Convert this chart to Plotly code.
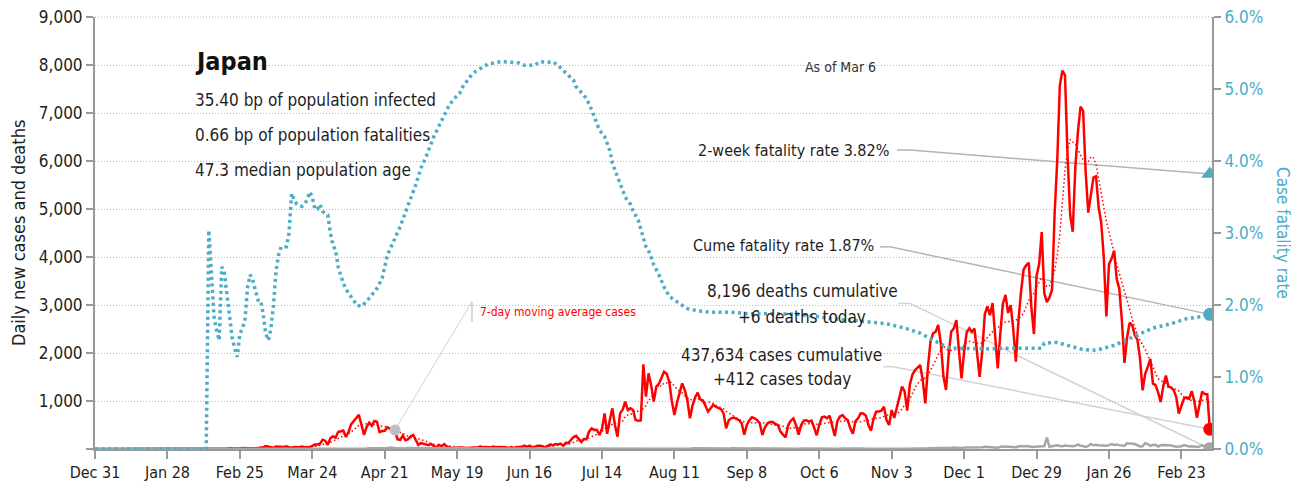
import pandas as pd
import plotly.graph_objects as go

# ---------------- data ----------------
start_date = "2019-12-31"

cases_dec19 = [0]
cases_jan20 = [0,0,0,0,0,0,0,0,0,0, 0,0,0,0,1,0,0,0,0,0, 0,0,0,1,1,1,0,3,0,4, 4]
cases_feb20 = [0,0,0,1,0,5,0,0,0,3, 0,2,8,8,12,6,7,9,11,10, 18,13,8,11,14,22,23,15,15]
cases_mar20 = [15,14,19,33,32,59,47,33,26,54, 52,55,41,57,33,15,44,39,39,53, 39,43,39,65,93,96,112,194,173,87, 225]
cases_apr20 = [266,235,353,367,383,252,351,511,576,639, 714,507,297,457,549,482,584,568,351,373, 378,450,423,438,358,201,192,281,184,200]
cases_may20 = [261,294,204,87,123,100,94,83,103,58, 39,84,55,99,52,30,16,29,19,33, 23,25,19,23,21,30,39,50,35,42, 33]
cases_jun20 = [31,51,37,41,40,39,35,17,38,18, 41,41,46,72,45,69,39,42,68,68, 57,30,55,95,75,104,93,112,66,130]
cases_jul20 = [125,196,250,274,206,143,209,204,360,430, 398,401,291,420,743,318,600,847,500,257, 743,820,986,812,847,812,604,590,595,1764, 1090]
cases_aug20 = [1576,1330,986,1299,1356,1485,1611,1568,1403,1000, 708,966,1176,1368,1230,1014,639,906,1074,1174, 1034,1010,900,778,850,917,880,850,830,743, 430]
cases_sep20 = [600,639,653,620,600,535,300,500,600,660, 640,600,535,290,450,535,560,560,520,500, 361,300,243,500,590,639,500,300,500,590]
cases_oct20 = [600,570,590,450,285,500,660,674,640,694, 500,270,580,680,708,640,604,430,320,580, 640,743,740,700,500,380,630,778,780,800, 882]
cases_nov20 = [604,500,812,646,882,1100,1299,1200,800,1333, 1547,1640,1700,1750,1438,950,1699,2236,2410,2444, 2583,2201,1518,1229,1946,2444,2510,2687,2060,1472]
cases_dec20 = [2030,2433,2517,2439,2508,2027,1505,2032,2810,2973, 2788,3041,2381,1680,2407,3031,3211,2834,2995,2494, 1819,2670,3271,3740,3826,3881,2948,2395,3604,3852, 4520]
cases_jan21 = [3243,3060,3157,3318,4915,6004,7570,7882,7790,6095, 4876,4525,5875,6605,7133,7042,5759,4925,5320,5654, 5684,5040,4717,3990,2764,3853,3963,4132,3538,3342, 2673]
cases_feb21 = [1792,2324,2631,2576,2369,2278,1887,1223,1567,1711, 1876,1360,1333,1179,978,1306,1528,1298,1283,1227, 1088,740,896,1052,1076,1049,1207,993]
cases_mar21 = [651,951,1195,1143,1141,412]

deaths_dec19 = [0]
deaths_jan20 = [0]*31
deaths_feb20 = [0,0,0,0,0,0,0,0,0,0, 0,0,1,0,0,0,0,1,0,0, 1,0,0,1,0,0,1,1,0]
deaths_mar20 = [0,0,0,0,0,0,0,1,3,4, 0,2,2,1,3,2,0,1,3,0, 2,1,1,1,2,1,3,2,6,2, 7]
deaths_apr20 = [3,6,5,4,7,3,7,6,6,13, 10,7,5,13,16,10,18,14,10,11, 17,14,30,28,16,12,18,13,12,22]
deaths_may20 = [25,22,15,20,21,21,22,23,15,10, 20,21,22,11,15,14,7,24,16,8, 15,15,10,15,10,14,14,13,12,10, 4]
deaths_jun20 = [1,4,5,2,5,3,2,1,4,3, 5,4,1,2,2,3,3,2,1,3, 2,2,3,4,2,2,3,1,2,2]
deaths_jul20 = [1,0,1,1,1,0,1,1,1,1, 1,1,0,2,1,1,1,0,1,1, 1,1,0,1,0,1,1,2,2,1, 3]
deaths_aug20 = [2,3,2,5,6,5,8,6,6,4, 4,9,12,12,13,6,7,16,15,16, 16,13,9,11,7,16,12,14,12,10, 7]
deaths_sep20 = [8,15,12,10,11,9,6,9,8,14, 13,8,7,5,6,10,11,8,9,5, 3,4,6,9,8,7,5,3,9,8]
deaths_oct20 = [6,7,8,5,3,6,7,8,7,6, 4,4,5,7,8,6,5,3,3,5, 7,6,8,7,5,3,5,6,7,8, 5]
deaths_nov20 = [6,5,8,6,9,10,9,7,5,10, 13,12,11,13,9,8,17,17,15,20, 21,18,15,16,22,28,31,28,25,19]
deaths_dec20 = [33,32,38,40,38,30,27,36,45,41, 42,46,34,27,45,53,50,48,50,44, 33,55,57,58,54,56,42,48,54,62, 56]
deaths_jan21 = [58,240,45,60,76,77,64,59,71,59, 60,57,68,97,66,60,45,64,104,78, 88,78,70,77,67,80,104,85,94,81, 69]
deaths_feb21 = [63,119,120,109,104,86,52,56,121,101, 65,82,86,53,78,85,74,77,72,56, 48,52,56,80,66,51,57,49]
deaths_mar21 = [44,50,78,58,40,6]

cfr_dates = ["2019-12-31","2020-02-12","2020-02-13","2020-02-14","2020-02-15","2020-02-16","2020-02-17",
             "2020-02-18","2020-02-19","2020-02-20","2020-02-21","2020-02-22","2020-02-23","2020-02-24",
             "2020-02-25","2020-02-26","2020-02-27","2020-02-28","2020-02-29","2020-03-01","2020-03-02",
             "2020-03-03","2020-03-04","2020-03-05","2020-03-06","2020-03-07","2020-03-08","2020-03-09",
             "2020-03-10","2020-03-11","2020-03-12","2020-03-13","2020-03-14","2020-03-15","2020-03-16",
             "2020-03-17","2020-03-18","2020-03-20","2020-03-21","2020-03-22","2020-03-23","2020-03-24",
             "2020-03-25","2020-03-26","2020-03-27","2020-03-28","2020-03-30","2020-03-31","2020-04-01",
             "2020-04-02","2020-04-03","2020-04-05","2020-04-07","2020-04-09","2020-04-10","2020-04-12",
             "2020-04-14","2020-04-16","2020-04-18","2020-04-20","2020-04-21","2020-04-22","2020-04-27",
             "2020-04-30","2020-05-03","2020-05-05","2020-05-07","2020-05-10","2020-05-13","2020-05-16",
             "2020-05-18","2020-05-20","2020-05-21","2020-05-24","2020-05-26","2020-05-29","2020-05-31",
             "2020-06-02","2020-06-05","2020-06-09","2020-06-12","2020-06-14","2020-06-18","2020-06-20",
             "2020-06-23","2020-06-25","2020-06-27","2020-06-29","2020-07-01","2020-07-03","2020-07-04",
             "2020-07-06","2020-07-08","2020-07-10","2020-07-12","2020-07-13","2020-07-15","2020-07-17",
             "2020-07-18","2020-07-20","2020-07-22","2020-07-23","2020-07-25","2020-07-26","2020-07-28",
             "2020-07-29","2020-07-30","2020-07-31","2020-08-01","2020-08-03","2020-08-05","2020-08-07",
             "2020-08-09","2020-08-13","2020-08-16","2020-08-20","2020-08-25","2020-09-02","2020-09-08",
             "2020-09-18","2020-09-28","2020-10-05","2020-10-11","2020-10-18","2020-10-24","2020-11-01",
             "2020-11-08","2020-11-14","2020-11-17","2020-11-23","2020-11-26","2020-12-03","2020-12-11",
             "2020-12-17","2020-12-24","2020-12-31","2021-01-01","2021-01-06","2021-01-10","2021-01-15",
             "2021-01-19","2021-01-22","2021-01-28","2021-02-02","2021-02-07","2021-02-12","2021-02-19",
             "2021-02-25","2021-03-03","2021-03-06"]
cfr_pct = [0,0,3.04,2.50,1.84,1.65,1.51,
           2.53,2.45,2.15,1.85,1.55,1.40,1.28,
           1.60,1.67,1.80,2.25,2.42,2.35,2.20,
           2.07,2.07,1.88,1.60,1.51,1.67,2.00,
           2.48,2.70,2.81,2.81,2.81,3.00,3.55,
           3.46,3.40,3.37,3.40,3.46,3.57,3.50,
           3.33,3.33,3.40,3.30,3.25,3.00,2.83,
           2.76,2.53,2.30,2.16,2.07,2.00,1.98,
           2.05,2.14,2.23,2.37,2.56,2.69,3.09,
           3.37,3.67,3.90,4.06,4.34,4.57,4.78,
           4.87,4.94,5.02,5.17,5.24,5.30,5.35,
           5.36,5.38,5.37,5.36,5.33,5.33,5.38,
           5.37,5.38,5.33,5.26,5.19,5.12,5.03,
           4.95,4.87,4.71,4.52,4.43,4.34,4.15,
           3.97,3.78,3.60,3.50,3.40,3.31,3.18,
           3.04,2.93,2.81,2.76,2.56,2.42,2.25,
           2.12,2.02,1.95,1.92,1.90,1.90,1.88,
           1.88,1.87,1.84,1.81,1.79,1.77,1.74,
           1.68,1.61,1.55,1.44,1.40,1.39,1.39,
           1.40,1.40,1.40,1.47,1.48,1.44,1.39,
           1.37,1.38,1.44,1.52,1.61,1.68,1.74,
           1.81,1.84,1.87]

two_week_rate = 3.82
country = "Japan"
stats_lines = ["35.40 bp of population infected",
               "0.66 bp of population fatalities",
               "47.3 median population age"]
as_of = "As of Mar 6"

tick_dates = ["2019-12-31","2020-01-28","2020-02-25","2020-03-24","2020-04-21","2020-05-19",
              "2020-06-16","2020-07-14","2020-08-11","2020-09-08","2020-10-06","2020-11-03",
              "2020-12-01","2020-12-29","2021-01-26","2021-02-23"]
tick_labels = ["Dec 31","Jan 28","Feb 25","Mar 24","Apr 21","May 19","Jun 16","Jul 14",
               "Aug 11","Sep 8","Oct 6","Nov 3","Dec 1","Dec 29","Jan 26","Feb 23"]
left_ticks = [0,1000,2000,3000,4000,5000,6000,7000,8000,9000]
left_labels = ["","1,000","2,000","3,000","4,000","5,000","6,000","7,000","8,000","9,000"]
right_ticks = [0,1,2,3,4,5,6]
right_labels = ["0.0%","1.0%","2.0%","3.0%","4.0%","5.0%","6.0%"]

# ---------------- build ----------------
cases = (cases_dec19 + cases_jan20 + cases_feb20 + cases_mar20 + cases_apr20 + cases_may20 +
         cases_jun20 + cases_jul20 + cases_aug20 + cases_sep20 + cases_oct20 + cases_nov20 +
         cases_dec20 + cases_jan21 + cases_feb21 + cases_mar21)
deaths = (deaths_dec19 + deaths_jan20 + deaths_feb20 + deaths_mar20 + deaths_apr20 + deaths_may20 +
          deaths_jun20 + deaths_jul20 + deaths_aug20 + deaths_sep20 + deaths_oct20 + deaths_nov20 +
          deaths_dec20 + deaths_jan21 + deaths_feb21 + deaths_mar21)
dates = pd.date_range(start_date, periods=len(cases), freq="D")
ma7 = pd.Series(cases).rolling(7, min_periods=1).mean()

FONT = "DejaVu Sans Condensed, Liberation Sans Narrow, sans-serif"
TEAL = "#4BACC6"
RED = "#FF0000"
GRAY = "#A6A6A6"

x_start = pd.Timestamp(start_date)
x_end = dates[-1] + pd.Timedelta(hours=20)
YMAX_L, YMAX_R = 9000, 6


def xp(d):
    d = pd.Timestamp(d)
    return (d - x_start) / (x_end - x_start)


fig = go.Figure()
fig.add_trace(go.Scatter(x=dates, y=ma7, mode="lines",
                         line=dict(color=RED, width=1.5, dash="1.5px,2.5px"), hoverinfo="skip"))
fig.add_trace(go.Scatter(x=dates, y=cases, mode="lines", line=dict(color=RED, width=2.5)))
fig.add_trace(go.Scatter(x=dates, y=deaths, mode="lines", line=dict(color=GRAY, width=2.5)))
ma_mark = pd.Timestamp("2020-04-25")
ma_mark_val = ma7[dates.get_loc(ma_mark)]
fig.add_trace(go.Scatter(x=[ma_mark], y=[ma_mark_val], mode="markers",
                         marker=dict(color="#BFBFBF", size=11)))
fig.add_trace(go.Scatter(x=[dates[-1]], y=[cases[-1]], mode="markers",
                         marker=dict(color=RED, size=13)))
fig.add_trace(go.Scatter(x=[dates[-1]], y=[deaths[-1]], mode="markers",
                         marker=dict(color=GRAY, size=13)))
fig.add_trace(go.Scatter(x=pd.to_datetime(cfr_dates), y=cfr_pct, mode="lines", yaxis="y2",
                         line=dict(color=TEAL, width=3.5, dash="3px,3.5px")))
fig.add_trace(go.Scatter(x=[dates[-1]], y=[cfr_pct[-1]], mode="markers", yaxis="y2",
                         marker=dict(color=TEAL, size=13)))
fig.add_trace(go.Scatter(x=[dates[-1]], y=[two_week_rate], mode="markers", yaxis="y2",
                         marker=dict(color=TEAL, size=15, symbol="triangle-up")))

shapes = []
# top gridline (at the 9,000 level)
shapes.append(dict(type="line", xref="paper", yref="paper", x0=0, x1=1, y0=1, y1=1,
                   line=dict(color="#BBBBBB", width=1, dash="1px,2px"), layer="below"))
xe = xp(dates[-1])
conn = [
    # (start x, start y, lead end x, end y (paper), color)
    (0.7180, 0.692, 0.7296, two_week_rate / YMAX_R, "#B4B4B4"),
    (0.7028, 0.468, 0.7117, cfr_pct[-1] / YMAX_R, "#B4B4B4"),
    (0.7192, 0.337, 0.7296, deaths[-1] / YMAX_L, "#D2D2D2"),
    (0.7057, 0.1905, 0.7147, cases[-1] / YMAX_L, "#D2D2D2"),
]
for x0, y0, xl, y1, c in conn:
    shapes.append(dict(type="line", xref="paper", yref="paper", x0=x0, y0=y0, x1=xl, y1=y0,
                       line=dict(color=c, width=1.5), layer="below"))
    shapes.append(dict(type="line", xref="paper", yref="paper", x0=xl, y0=y0, x1=xe, y1=y1,
                       line=dict(color=c, width=1.5), layer="below"))
# moving-average label connector
shapes.append(dict(type="line", xref="paper", yref="paper", x0=xp(ma_mark),
                   y0=ma_mark_val / YMAX_L, x1=0.3375, y1=0.341,
                   line=dict(color="#D2D2D2", width=1), layer="below"))
shapes.append(dict(type="line", xref="paper", yref="paper", x0=0.3375, y0=0.341, x1=0.3375, y1=0.294,
                   line=dict(color="#C0C0C0", width=1.2), layer="below"))

TXT = "#1E1E1E"
ann = []
ann.append(dict(text="<b>" + country + "</b>", x=0.0877, y=0.896, xanchor="left", yanchor="middle",
                font=dict(size=25, color="#111")))
for s, yy in zip(stats_lines, [0.808, 0.727, 0.646]):
    ann.append(dict(text=s, x=0.0877, y=yy, xanchor="left", yanchor="middle",
                    font=dict(size=17, color=TXT)))
ann.append(dict(text=as_of, x=0.701, y=0.884, xanchor="right", yanchor="middle",
                font=dict(size=14, color="#333")))
ann.append(dict(text="2-week fatality rate %.2f%%" % two_week_rate, x=0.7126, y=0.690,
                xanchor="right", yanchor="middle", font=dict(size=16, color=TXT)))
ann.append(dict(text="Cume fatality rate %.2f%%" % cfr_pct[-1], x=0.699, y=0.470,
                xanchor="right", yanchor="middle", font=dict(size=16, color=TXT)))
ann.append(dict(text="8,196 deaths cumulative", x=0.633, y=0.3657, xanchor="center", yanchor="middle",
                font=dict(size=17, color=TXT)))
ann.append(dict(text="+%d deaths today" % deaths[-1], x=0.633, y=0.3056, xanchor="center",
                yanchor="middle", font=dict(size=17, color=TXT)))
ann.append(dict(text="437,634 cases cumulative", x=0.615, y=0.2176, xanchor="center", yanchor="middle",
                font=dict(size=17, color=TXT)))
ann.append(dict(text="+%d cases today" % cases[-1], x=0.615, y=0.162, xanchor="center",
                yanchor="middle", font=dict(size=17, color=TXT)))
ann.append(dict(text="7-day moving average cases", x=0.3429, y=0.317, xanchor="left", yanchor="middle",
                font=dict(size=12, color=RED)))
ann.append(dict(text="Daily new cases and deaths", x=-0.0689, y=0.5, textangle=-90,
                xanchor="center", yanchor="middle", font=dict(size=18, color=TXT)))
ann.append(dict(text="Case fatality rate", x=1.0636, y=0.5, textangle=90,
                xanchor="center", yanchor="middle", font=dict(size=17, color=TEAL)))
for a in ann:
    a.update(xref="paper", yref="paper", showarrow=False)

# page body has an 8px margin: figure sized/offset so the plot area lands at x 95-1212, y 17-449
fig.update_layout(
    width=1291, height=480,
    margin=dict(l=87, r=87, t=9, b=39),
    paper_bgcolor="white", plot_bgcolor="white",
    showlegend=False,
    font=dict(family=FONT, color=TXT, size=16),
    shapes=shapes, annotations=ann,
    xaxis=dict(type="date", range=[x_start, x_end], tickvals=pd.to_datetime(tick_dates),
               ticktext=tick_labels, ticks="outside", ticklen=8, tickwidth=1.5, tickcolor="#999",
               showline=True, linecolor="#999", linewidth=2, showgrid=False, zeroline=False,
               automargin=False, ticklabeloverflow="allow", tickfont=dict(size=16, color=TXT)),
    yaxis=dict(range=[0, YMAX_L], tickvals=left_ticks, ticktext=left_labels, ticks="outside",
               ticklen=7, tickwidth=1.5, tickcolor="#999", showline=True, linecolor="#999",
               linewidth=2, showgrid=True, gridcolor="#BBBBBB", gridwidth=1, griddash="1px,2px",
               zeroline=False, automargin=False, ticklabeloverflow="allow",
               tickfont=dict(size=17, color=TXT)),
    yaxis2=dict(range=[0, YMAX_R], overlaying="y", side="right", tickvals=right_ticks,
                ticktext=right_labels, ticks="outside", ticklen=7, tickwidth=1.5, tickcolor="#999",
                showline=True, linecolor="#999", linewidth=2, showgrid=False, zeroline=False,
                automargin=False, ticklabeloverflow="allow", tickfont=dict(size=17, color=TEAL)),
)

fig.write_html("out.html")
